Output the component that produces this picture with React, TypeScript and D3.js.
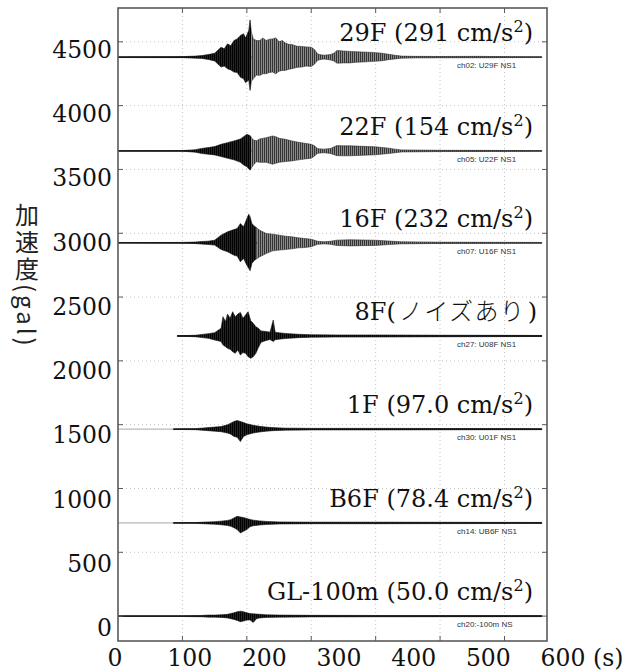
import React from "react";
import * as d3 from "d3";

type Env = [number, number, number][]; // [time s, upper gal, lower gal]

const W = 634;
const H = 672;

const xTicks = [0, 100, 200, 300, 400, 500, 600];
const yTicks = [0, 500, 1000, 1500, 2000, 2500, 3000, 3500, 4000, 4500];

const seriesNames = ["29F", "22F", "16F", "8F", "1F", "B6F", "GL-100m"];
const peakValues = ["291", "154", "232", "", "97.0", "78.4", "50.0"];
const noiseNote = "ノイズあり";
const channels = [
  "ch02: U29F NS1",
  "ch05: U22F NS1",
  "ch07: U16F NS1",
  "ch27: U08F NS1",
  "ch30: U01F NS1",
  "ch14: UB6F NS1",
  "ch20:-100m NS",
];
const baselines = [4380, 3645, 2925, 2195, 1465, 730, 0];
const startTimes = [0, 0, 0, 92, 86, 86, 0];
const endTime = 658;

const env29F: Env = [
  [0, 3, -3], [100, 4, -4], [120, 8, -8], [130, 12, -10], [140, 20, -18], [150, 30, -30],
  [160, 78, -78], [165, 65, -70], [170, 104, -91], [175, 90, -100], [180, 130, -117],
  [185, 143, -120], [190, 170, -157], [195, 183, -170], [198, 150, -200], [203, 209, -180],
  [205, 292, -261], [207, 200, -190], [210, 143, -170], [215, 130, -140], [220, 130, -143],
  [225, 150, -130], [230, 130, -130], [235, 140, -120], [240, 143, -117], [245, 151, -130],
  [250, 120, -110], [255, 130, -104], [260, 110, -104], [265, 100, -95], [270, 99, -91],
  [278, 85, -80], [285, 84, -78], [292, 80, -70], [300, 78, -73], [305, 60, -55],
  [310, 25, -25], [315, 18, -18], [320, 15, -15], [330, 20, -22], [335, 30, -30],
  [340, 52, -47], [350, 48, -45], [360, 45, -45], [370, 42, -40], [380, 40, -38],
  [390, 38, -35], [400, 35, -32], [410, 30, -28], [420, 22, -20], [430, 15, -14],
  [440, 8, -8], [460, 6, -6], [500, 5, -5], [560, 6, -5], [600, 4, -4], [658, 3, -3],
];

const env22F: Env = [
  [0, 2, -2], [100, 3, -3], [110, 6, -6], [120, 10, -10], [130, 20, -20], [140, 26, -26],
  [150, 34, -31], [160, 52, -44], [170, 65, -57], [180, 78, -70], [190, 94, -89],
  [195, 112, -110], [200, 130, -123], [205, 120, -151], [210, 86, -110], [215, 80, -85],
  [220, 94, -89], [230, 104, -89], [240, 117, -104], [245, 112, -97], [250, 99, -89],
  [260, 91, -83], [270, 78, -78], [280, 68, -70], [290, 60, -63], [300, 52, -57],
  [305, 40, -40], [310, 18, -18], [320, 14, -14], [330, 20, -20], [340, 42, -37],
  [350, 40, -38], [360, 40, -38], [380, 36, -34], [400, 32, -30], [420, 22, -20],
  [430, 14, -14], [440, 8, -8], [500, 5, -5], [658, 3, -3],
];

const env16F: Env = [
  [0, 2, -2], [100, 3, -3], [120, 6, -6], [130, 10, -10], [140, 13, -13], [150, 21, -18],
  [155, 40, -35], [160, 60, -52], [170, 86, -70], [180, 104, -97], [185, 112, -104],
  [190, 151, -149], [195, 125, -123], [200, 190, -175], [203, 224, -201], [205, 204, -219],
  [208, 150, -160], [212, 130, -136], [220, 99, -110], [230, 73, -84], [240, 68, -63],
  [250, 60, -57], [260, 52, -52], [270, 47, -47], [280, 39, -39], [290, 34, -37],
  [300, 28, -30], [310, 12, -12], [320, 8, -8], [330, 12, -12], [340, 21, -21],
  [360, 24, -24], [380, 22, -22], [400, 20, -20], [420, 14, -14], [440, 8, -8],
  [500, 5, -5], [658, 3, -3],
];

const env8F: Env = [
  [92, 3, -3], [110, 4, -4], [120, 6, -6], [130, 12, -12], [140, 18, -18], [150, 26, -31],
  [160, 60, -44], [163, 151, -70], [167, 112, -84], [170, 172, -97], [174, 138, -104],
  [178, 190, -123], [182, 151, -136], [186, 172, -110], [190, 185, -149], [194, 138, -130],
  [198, 164, -136], [202, 190, -162], [206, 120, -175], [210, 99, -162], [214, 73, -136],
  [218, 60, -90], [222, 40, -50], [230, 35, -35], [236, 30, -28], [241, 125, -44],
  [244, 30, -30], [250, 25, -25], [260, 20, -20], [280, 13, -13], [300, 10, -10],
  [340, 8, -8], [400, 8, -8], [500, 6, -6], [600, 5, -5], [658, 4, -4],
];

const env1F: Env = [
  [86, 2, -2], [100, 3, -3], [120, 4, -4], [130, 8, -8], [140, 12, -12], [150, 16, -16],
  [160, 20, -20], [170, 34, -31], [175, 47, -39], [180, 60, -57], [185, 68, -63],
  [190, 60, -97], [195, 52, -57], [200, 42, -44], [210, 30, -30], [220, 22, -22],
  [230, 16, -16], [240, 12, -12], [260, 8, -8], [300, 6, -6], [400, 6, -6], [500, 5, -5],
  [658, 4, -4],
];

const envB6F: Env = [
  [86, 2, -2], [120, 3, -3], [140, 8, -8], [150, 10, -10], [160, 14, -14], [170, 20, -20],
  [175, 26, -26], [180, 39, -37], [185, 52, -52], [190, 47, -78], [195, 42, -65],
  [200, 34, -52], [205, 28, -30], [210, 22, -22], [220, 16, -16], [230, 12, -12],
  [250, 8, -8], [300, 6, -6], [400, 6, -6], [658, 4, -4],
];

const envGL: Env = [
  [0, 2, -2], [100, 3, -3], [130, 5, -5], [140, 8, -8], [150, 8, -8], [160, 10, -10],
  [170, 14, -14], [180, 26, -26], [185, 34, -34], [190, 39, -44], [195, 34, -39],
  [200, 26, -31], [205, 20, -30], [210, 18, -50], [215, 16, -20], [220, 14, -14],
  [230, 10, -10], [250, 8, -8], [300, 6, -6], [400, 5, -5], [658, 4, -4],
];

const envelopes = [env29F, env22F, env16F, env8F, env1F, envB6F, envGL];
// time after which the trace is drawn in the lighter grey texture (style)
const lightAfter = [207, 207, 215, null, null, null, null];

const M = { left: 118, right: 547, top: 8, bottom: 641 };

export default function App() {
  const x = d3.scaleLinear().domain([0, 666]).range([M.left, M.right]);
  const y = d3.scaleLinear().domain([-195, 4765]).range([M.bottom, M.top]);
  // tick labels were placed independently of the grid in the original figure
  const xLab = d3.scaleLinear().domain([0, 600]).range([115, 563]);
  const yLab = d3.scaleLinear().domain([0, 4500]).range([636, 58]);

  const serif = "'DejaVu Serif', 'Noto Sans CJK JP', serif";
  const cjk = "'Noto Sans CJK JP', sans-serif";
  const tickLen = 5;

  return (
    <svg
      width={W}
      height={H}
      style={{ position: "absolute", left: 0, top: 0, background: "#fff" }}
    >
      <defs>
        <pattern id="darkTex" patternUnits="userSpaceOnUse" width={2} height={8}>
          <rect width={2} height={8} fill="#262626" />
          <rect width={1} height={8} fill="#000" />
        </pattern>
        <pattern id="lightTex" patternUnits="userSpaceOnUse" width={2} height={8}>
          <rect width={2} height={8} fill="#8c8c8c" />
          <rect width={1} height={8} fill="#333" />
        </pattern>
        {lightAfter.map((t, i) =>
          t == null ? null : (
            <React.Fragment key={i}>
              <clipPath id={`dark${i}`}>
                <rect x={M.left} y={M.top} width={x(t) - M.left} height={M.bottom - M.top} />
              </clipPath>
              <clipPath id={`light${i}`}>
                <rect x={x(t)} y={M.top} width={M.right - x(t)} height={M.bottom - M.top} />
              </clipPath>
            </React.Fragment>
          )
        )}
      </defs>

      {/* grid */}
      {xTicks.filter((t) => t > 0).map((t) => (
        <line key={`gx${t}`} x1={x(t)} x2={x(t)} y1={M.top} y2={M.bottom}
          stroke="#c4c4c4" strokeWidth={1} strokeDasharray="1 3" />
      ))}
      {yTicks.map((v) => (
        <line key={`gy${v}`} x1={M.left} x2={M.right} y1={y(v)} y2={y(v)}
          stroke="#c4c4c4" strokeWidth={1} strokeDasharray="1 3" />
      ))}

      {/* traces */}
      {envelopes.map((env, i) => {
        const base = baselines[i];
        const area = d3
          .area<[number, number, number]>()
          .x((d) => x(d[0]))
          .y0((d) => y(base + d[2]))
          .y1((d) => y(base + d[1]))
          .curve(d3.curveLinear);
        const path = area(env) || "";
        const split = lightAfter[i];
        return (
          <g key={`tr${i}`}>
            {startTimes[i] > 0 && i >= 4 && (
              <line x1={x(0)} x2={x(startTimes[i])} y1={y(base)} y2={y(base)}
                stroke="#b8b8b8" strokeWidth={1.2} />
            )}
            <line x1={x(startTimes[i])} x2={x(endTime)} y1={y(base)} y2={y(base)}
              stroke="#111" strokeWidth={1.3} />
            {split == null ? (
              <path d={path} fill="url(#darkTex)" stroke="#111" strokeWidth={0.6} />
            ) : (
              <>
                <path d={path} fill="url(#darkTex)" stroke="#111" strokeWidth={0.6}
                  clipPath={`url(#dark${i})`} />
                <path d={path} fill="url(#lightTex)" stroke="#333" strokeWidth={0.6}
                  clipPath={`url(#light${i})`} />
              </>
            )}
          </g>
        );
      })}

      {/* frame and ticks */}
      <rect x={M.left} y={M.top} width={M.right - M.left} height={M.bottom - M.top}
        fill="none" stroke="#5a5a5a" strokeWidth={1.6} />
      {xTicks.filter((t) => t > 0).map((t) => (
        <g key={`tx${t}`} stroke="#5a5a5a" strokeWidth={1}>
          <line x1={x(t)} x2={x(t)} y1={M.bottom} y2={M.bottom - tickLen} />
          <line x1={x(t)} x2={x(t)} y1={M.top} y2={M.top + tickLen} />
        </g>
      ))}
      {yTicks.map((v) => (
        <g key={`ty${v}`} stroke="#5a5a5a" strokeWidth={1}>
          <line x1={M.left} x2={M.left + tickLen} y1={y(v)} y2={y(v)} />
          <line x1={M.right} x2={M.right - tickLen} y1={y(v)} y2={y(v)} />
        </g>
      ))}

      {/* tick labels */}
      {yTicks.map((v) => (
        <text key={`yl${v}`} x={112} y={yLab(v)} textAnchor="end"
          fontFamily={serif} fontSize={23.5} fill="#111">
          {v}
        </text>
      ))}
      {xTicks.map((t) => (
        <text key={`xl${t}`} x={xLab(t)} y={666} textAnchor="middle"
          fontFamily={serif} fontSize={23.5} fill="#111">
          {t}
        </text>
      ))}
      <text x={xLab(600) + 30} y={666} fontFamily={serif} fontSize={23.5} fill="#111">
        (s)
      </text>

      {/* y axis title, vertical writing */}
      <text x={27} y={203}
        style={{ writingMode: "vertical-rl", textOrientation: "mixed" } as React.CSSProperties}
        fontFamily={cjk} fontSize={24} fill="#222" letterSpacing={3}>
        加速度(gal)
      </text>

      {/* series labels */}
      {seriesNames.map((n, i) => {
        const by = y(baselines[i]) - 16;
        if (!peakValues[i]) {
          return (
            <text key={`sl${i}`} x={537} y={by} textAnchor="end" fontFamily={serif}
              fontSize={24} fill="#111">
              {`${n}(`}
              <tspan fontFamily={cjk} fontWeight={300} letterSpacing={1.5} dx={3}>{noiseNote}</tspan>
              <tspan dx={2}>)</tspan>
            </text>
          );
        }
        return (
          <text key={`sl${i}`} x={533} y={by} textAnchor="end" fontFamily={serif}
            fontSize={24} fill="#111">
            {`${n} (${peakValues[i]} cm/s`}
            <tspan fontSize={16} dy={-9}>2</tspan>
            <tspan dy={9}>)</tspan>
          </text>
        );
      })}

      {/* channel labels */}
      {channels.map((c, i) => (
        <text key={`ch${i}`} x={457} y={y(baselines[i]) + 11}
          fontFamily="'Liberation Sans', Arial, sans-serif" fontSize={8} fill="#333">
          {c}
        </text>
      ))}
    </svg>
  );
}
